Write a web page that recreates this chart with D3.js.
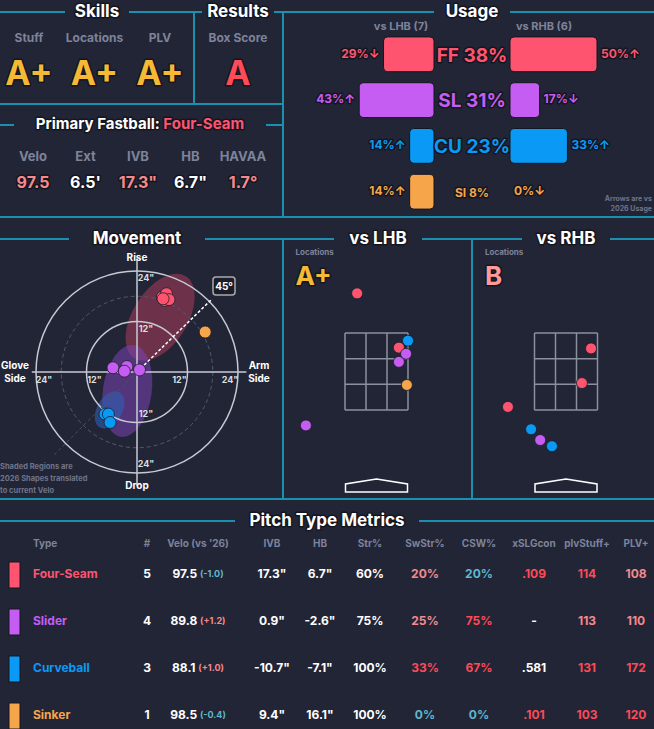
<!DOCTYPE html>
<html><head><meta charset="utf-8">
<script src="https://cdn.jsdelivr.net/npm/d3@7"></script>
<style>
body{margin:0;background:#222536}
text{font-family:Inter,"Noto Sans",sans-serif;font-weight:700}
.out{paint-order:stroke;stroke:#14161f;stroke-width:3px;stroke-linejoin:round}
</style></head><body>
<svg id="c" width="654" height="729"></svg>
<script>
// ---- data ----
const pitchTypes = ['FF', 'SL', 'CU', 'SI']
const pitchNames = ['Four-Seam', 'Slider', 'Curveball', 'Sinker']
const pitchColors = ['#ff5470', '#c65df2', '#0a9af5', '#f6a54b']
const usageAll = [38, 31, 23, 8]
const usageLHB = [29, 43, 14, 14]
const arrowLHB = ['↓', '↑', '↑', '↑']
const usageRHB = [50, 17, 33, 0]
const arrowRHB = ['↑', '↓', '↑', '↓']

const skillLabels = ['Stuff', 'Locations', 'PLV']
const skillGrades = ['A+', 'A+', 'A+']
const fbLabels = ['Velo', 'Ext', 'IVB', 'HB', 'HAVAA']
const fbValues = ['97.5', "6.5'", '17.3"', '6.7"', '1.7°']

// movement (HB, IVB in inches)
const moveFF = [[6.0, 17.8], [7.0, 18.6], [6.5, 17.0], [7.6, 17.2], [6.2, 17.4]]
const moveSL = [[-5.7, 1.0], [-2.4, 1.3], [-3.0, 0.2], [0.6, 0.5]]
const moveCU = [[-7.6, -10.0], [-6.8, -10.0], [-6.4, -12.0]]
const moveSI = [[16.2, 9.5]]
const moveTicks = [12, 24]

// locations (plate x, plate z in ft)
const locLHB = [['FF', -0.51, 4.53], ['FF', 0.59, 3.12], ['CU', 0.83, 3.3], ['SL', 0.78, 2.96],
  ['SL', 0.59, 2.75], ['SI', 0.8, 2.15], ['SL', -1.86, 1.1]]
const locRHB = [['FF', 0.66, 3.1], ['FF', 0.42, 2.2], ['FF', -1.53, 1.58], ['CU', -0.92, 1.0],
  ['SL', -0.68, 0.72], ['CU', -0.37, 0.56]]

// table
const tableHeaders = ['#', "Velo (vs '26)", 'IVB', 'HB', 'Str%', 'SwStr%', 'CSW%', 'xSLGcon', 'plvStuff+', 'PLV+']
const countCol = [5, 4, 3, 1]
const veloCol = ['97.5', '89.8', '88.1', '98.5']
const veloDiff = ['(-1.0)', '(+1.2)', '(+1.0)', '(-0.4)']
const ivbCol = ['17.3"', '0.9"', '-10.7"', '9.4"']
const hbCol = ['6.7"', '-2.6"', '-7.1"', '16.1"']
const strCol = ['60%', '75%', '100%', '100%']
const swstrCol = ['20%', '25%', '33%', '0%']
const cswCol = ['20%', '75%', '67%', '0%']
const xslgCol = ['.109', '-', '.581', '.101']
const stuffCol = ['114', '113', '131', '103']
const plvCol = ['108', '110', '172', '120']

// ---- helpers ----
const teal = '#1a8fae', grey = '#7d839a', gold = '#f5b935', red = '#ff4a57', salmon = '#f58a8e', sky = '#5fb8cc'
const svg = d3.select('#c')
svg.append('rect').attr('width', 654).attr('height', 729).attr('fill', '#222536')
const color = t => pitchColors[pitchTypes.indexOf(t)]

const line = (x1, y1, x2, y2, w = 2) => svg.append('line').attr('x1', x1).attr('y1', y1)
  .attr('x2', x2).attr('y2', y2).attr('stroke', teal).attr('stroke-width', w)
const txt = (x, y, s, size, fill, anchor = 'middle', cls = '') => svg.append('text')
  .attr('x', x).attr('y', y).attr('font-size', size).attr('fill', fill)
  .attr('text-anchor', anchor).attr('dominant-baseline', 'middle').attr('class', cls).text(s)
const title = (x, y, s, x1, x2, gap) => {
  line(x1, y, x - gap, y); line(x + gap, y, x2, y)
  txt(x, y, s, 17, '#fff', 'middle', 'out')
}

// ---- frame lines ----
title(97, 12, 'Skills', 0, 194, 32)
title(238, 12, 'Results', 194, 283, 36)
title(472, 12, 'Usage', 283, 654, 38)
line(194, 12, 194, 104); line(0, 104, 283, 104); line(283, 12, 283, 217)
line(0, 125, 14, 125); line(266, 125, 283, 125)
line(0, 217, 654, 217)

// skills
skillLabels.forEach((l, i) => {
  const x = 29 + i * 65.5
  txt(x, 39, l, 12, grey)
  txt(x, 76, skillGrades[i], 34, gold, 'middle', 'out')
})
txt(238, 39, 'Box Score', 12, grey)
txt(238, 76, 'A', 34, red, 'middle', 'out')

// primary fastball
const pf = svg.append('text').attr('x', 140).attr('y', 125).attr('text-anchor', 'middle')
  .attr('dominant-baseline', 'middle').attr('font-size', 15).attr('class', 'out')
pf.append('tspan').attr('fill', '#fff').text('Primary Fastball: ')
pf.append('tspan').attr('fill', pitchColors[0]).text(pitchNames[0])
fbLabels.forEach((l, i) => {
  const x = 33 + i * 52.5
  txt(x, 157, l, 13, grey)
  txt(x, 184, fbValues[i], 16, (i % 2 === 0) ? salmon : '#fff', 'middle', 'out')
})

// usage
txt(401, 27, 'vs LHB (7)', 11, grey)
txt(544, 27, 'vs RHB (6)', 11, grey)
const uScale = d3.scaleLinear().domain([0, 50]).range([0, 87])
const uY = d3.scaleBand().domain(pitchTypes).range([36, 210]).paddingInner(0.24).paddingOuter(0.02)
pitchTypes.forEach((t, i) => {
  const y = uY(t), h = uY.bandwidth(), cy = y + h / 2, c = pitchColors[i]
  const wl = uScale(usageLHB[i]), wr = uScale(usageRHB[i])
  if (wl > 0) svg.append('rect').attr('x', 434 - wl).attr('y', y).attr('width', wl).attr('height', h)
    .attr('rx', 4).attr('fill', c).attr('stroke', '#14161f')
  if (wr > 0) svg.append('rect').attr('x', 510).attr('y', y).attr('width', wr).attr('height', h)
    .attr('rx', 4).attr('fill', c).attr('stroke', '#14161f')
  txt(434 - wl - 4, cy, usageLHB[i] + '%' + arrowLHB[i], 12, c, 'end', 'out')
  txt(510 + wr + 4, cy, usageRHB[i] + '%' + arrowRHB[i], 12, c, 'start', 'out')
  txt(472, cy + 2, t + ' ' + usageAll[i] + '%', usageAll[i] > 10 ? 19 : 12, c, 'middle', 'out')
})
txt(652, 199, 'Arrows are vs', 7, '#6f7489', 'end')
txt(652, 209, '2026 Usage', 7, '#6f7489', 'end')

// ---- movement ----
title(137, 239, 'Movement', 0, 283, 68)
title(378, 239, 'vs LHB', 283, 472, 44)
title(566, 239, 'vs RHB', 472, 654, 44)
line(283, 239, 283, 499); line(472, 239, 472, 499)
line(0, 499, 654, 499)
const cx = 137, cy = 372
const mx = d3.scaleLinear().domain([-24, 24]).range([cx - 101, cx + 101])
const my = d3.scaleLinear().domain([-24, 24]).range([cy + 101, cy - 101])
const mg = svg.append('g')
// shaded regions (2026 shapes)
const shade = (hb, ivb, rx, ry, ang, c, op) => mg.append('ellipse')
  .attr('cx', mx(hb)).attr('cy', my(ivb)).attr('rx', mx(rx) - mx(0)).attr('ry', mx(ry) - mx(0))
  .attr('transform', `rotate(${ang},${mx(hb)},${my(ivb)})`).attr('fill', c).attr('opacity', op)
shade(5.5, 13, 11.5, 6.5, -58, '#b8405e', 0.5)
shade(-2.3, -4.5, 11, 5.8, -82, '#7c44b4', 0.55)
shade(-6.5, -9, 4.8, 3, -60, '#2f5fb8', 0.6)
mg.append('circle').attr('cx', cx).attr('cy', cy).attr('r', mx(18) - cx).attr('fill', 'none')
  .attr('stroke', '#555a6e').attr('stroke-dasharray', '4,3').attr('stroke-width', 1)
moveTicks.forEach(r => mg.append('circle').attr('cx', cx).attr('cy', cy).attr('r', mx(r) - cx)
  .attr('fill', 'none').attr('stroke', '#c8cad3').attr('stroke-width', 1.5))
mg.append('line').attr('x1', mx(-25)).attr('x2', mx(26)).attr('y1', cy).attr('y2', cy).attr('stroke', '#c8cad3').attr('stroke-width', 1.5)
mg.append('line').attr('x1', cx).attr('x2', cx).attr('y1', my(27)).attr('y2', my(-27)).attr('stroke', '#c8cad3').attr('stroke-width', 1.5)
mg.append('line').attr('x1', cx).attr('y1', cy).attr('x2', mx(-20)).attr('y2', my(-20))
  .attr('stroke', '#4a4f62').attr('stroke-dasharray', '3,3')
moveTicks.forEach(r => {
  txt(mx(r) - 8, cy + 9, r + '"', 9, '#ddd')
  txt(mx(-r) + 8, cy + 9, r + '"', 9, '#ddd')
  txt(cx + 9, my(r) + 8, r + '"', 9, '#ddd')
  txt(cx + 9, my(-r) - 8, r + '"', 9, '#ddd')
})
txt(cx, 258, 'Rise', 10, '#fff')
txt(cx, 486, 'Drop', 10, '#fff')
txt(15, 366, 'Glove', 10, '#fff'); txt(15, 379, 'Side', 10, '#fff')
txt(259, 366, 'Arm', 10, '#fff'); txt(259, 379, 'Side', 10, '#fff')
// 45 deg arm slot
mg.append('line').attr('x1', cx).attr('y1', cy).attr('x2', 211).attr('y2', 300)
  .attr('stroke', '#fff').attr('stroke-dasharray', '3,2').attr('stroke-width', 1.5)
svg.append('rect').attr('x', 213).attr('y', 277).attr('width', 22).attr('height', 18).attr('rx', 3)
  .attr('fill', '#1b1d29').attr('stroke', '#aaa').attr('stroke-width', 1.5)
txt(224, 287, '45°', 10, '#fff')
const dots = (pts, c) => pts.forEach(p => mg.append('circle').attr('cx', mx(p[0])).attr('cy', my(p[1]))
  .attr('r', 6).attr('fill', c).attr('stroke', '#1b1d29').attr('stroke-width', 0.8))
dots(moveFF, pitchColors[0]); dots(moveSL, pitchColors[1]); dots(moveCU, pitchColors[2]); dots(moveSI, pitchColors[3])
txt(0, 467, 'Shaded Regions are', 7.5, '#6f7489', 'start')
txt(0, 479, '2026 Shapes translated', 7.5, '#6f7489', 'start')
txt(0, 491, 'to current Velo', 7.5, '#6f7489', 'start')

// ---- locations ----
const drawLoc = (x0, data, grade, gc) => {
  const lx = d3.scaleLinear().domain([-0.83, 0.83]).range([x0 - 31.5, x0 + 31.5])
  const lz = d3.scaleLinear().domain([1.5, 3.5]).range([410, 333])
  txt(x0 - 81, 253, 'Locations', 8, grey, 'start')
  txt(x0 - 81, 278, grade, 26, gc, 'start', 'out')
  const g = svg.append('g').attr('stroke', '#8c8f9c').attr('stroke-width', 1.5).attr('fill', 'none')
  d3.range(4).forEach(k => {
    const xv = -0.83 + k * 1.66 / 3, zv = 1.5 + k * 2 / 3
    g.append('line').attr('x1', lx(xv)).attr('x2', lx(xv)).attr('y1', lz(1.5)).attr('y2', lz(3.5))
    g.append('line').attr('x1', lx(-0.83)).attr('x2', lx(0.83)).attr('y1', lz(zv)).attr('y2', lz(zv))
  })
  svg.append('path').attr('d', `M${x0 - 31},492 L${x0 + 31},492 L${x0 + 31},484 L${x0},479 L${x0 - 31},484 Z`)
    .attr('fill', 'none').attr('stroke', '#fff').attr('stroke-width', 1.5)
  data.forEach(d => svg.append('circle').attr('cx', lx(d[1])).attr('cy', lz(d[2])).attr('r', 5.5)
    .attr('fill', color(d[0])).attr('stroke', '#1b1d29').attr('stroke-width', 0.8))
}
drawLoc(376.5, locLHB, 'A+', gold)
drawLoc(566, locRHB, 'B', '#ff9a9a')

// ---- table ----
title(327, 521, 'Pitch Type Metrics', 0, 654, 92)
const colX = [147, 198, 272, 320, 370, 425, 479, 534, 587, 636]
txt(33, 544, 'Type', 10, grey, 'start')
tableHeaders.forEach((h, i) => txt(colX[i], 544, h, 10, grey))
const cellColor = {
  swstr: [salmon, salmon, red, sky], csw: [sky, red, red, sky],
  xslg: [red, '#fff', '#fff', red], stuff: [red, salmon, red, red], plv: [salmon, salmon, red, red]
}
const rowY = d3.scaleLinear().domain([0, 3]).range([575, 716])
pitchNames.forEach((n, i) => {
  const y = rowY(i)
  svg.append('rect').attr('x', 9).attr('y', y - 13).attr('width', 11).attr('height', 26).attr('fill', pitchColors[i])
    .attr('stroke', '#14161f')
  txt(33, y, n, 12, pitchColors[i], 'start')
  txt(colX[0], y, countCol[i], 12, '#fff')
  const vt = svg.append('text').attr('x', colX[1]).attr('y', y).attr('text-anchor', 'middle')
    .attr('dominant-baseline', 'middle').attr('font-size', 12).attr('fill', '#fff')
  vt.append('tspan').text(veloCol[i] + ' ')
  vt.append('tspan').attr('font-size', 9).attr('fill', veloDiff[i].includes('-') ? sky : salmon).text(veloDiff[i])
  txt(colX[2], y, ivbCol[i], 12, '#fff')
  txt(colX[3], y, hbCol[i], 12, '#fff')
  txt(colX[4], y, strCol[i], 12, '#fff')
  txt(colX[5], y, swstrCol[i], 12, cellColor.swstr[i])
  txt(colX[6], y, cswCol[i], 12, cellColor.csw[i])
  txt(colX[7], y, xslgCol[i], 12, cellColor.xslg[i])
  txt(colX[8], y, stuffCol[i], 12, cellColor.stuff[i])
  txt(colX[9], y, plvCol[i], 12, cellColor.plv[i])
})
</script></body></html>
